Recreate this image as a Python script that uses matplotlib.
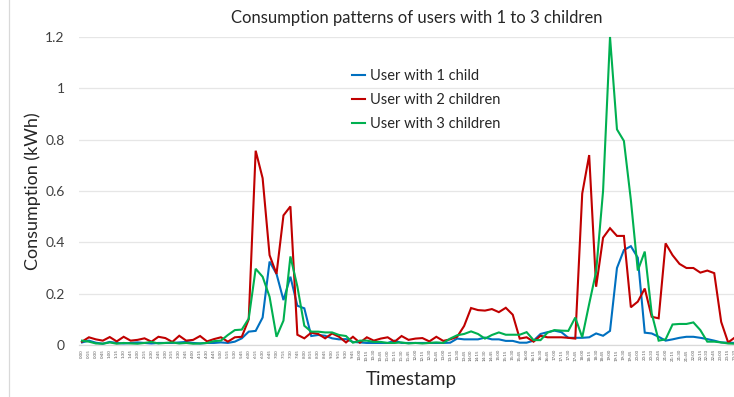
import matplotlib
matplotlib.use("Agg")
import matplotlib.pyplot as plt
from matplotlib.lines import Line2D

plt.rcParams['font.family'] = ['Lato', 'DejaVu Sans']

# 15-minute time slots over a day
timestamps = [f"{h}:{m:02d}" for h in range(24) for m in (0, 15, 30, 45)]

one_child = [
    0.010, 0.017, 0.009, 0.005, 0.012, 0.008, 0.006, 0.008, 0.010, 0.008,
    0.006, 0.008, 0.008, 0.008, 0.010, 0.012, 0.008, 0.006, 0.008, 0.008,
    0.010, 0.008, 0.013, 0.026, 0.052, 0.055, 0.107, 0.325, 0.277, 0.175,
    0.266, 0.153, 0.143, 0.035, 0.039, 0.036, 0.026, 0.022, 0.023, 0.012,
    0.010, 0.008, 0.008, 0.008, 0.008, 0.017, 0.008, 0.008, 0.008, 0.008,
    0.008, 0.008, 0.008, 0.009, 0.025, 0.022, 0.022, 0.022, 0.029, 0.022,
    0.022, 0.016, 0.016, 0.009, 0.009, 0.017, 0.043, 0.050, 0.056, 0.050,
    0.028, 0.028, 0.028, 0.030, 0.045, 0.036, 0.055, 0.300, 0.370, 0.385,
    0.340, 0.048, 0.045, 0.032, 0.017, 0.022, 0.028, 0.032, 0.032, 0.028,
    0.023, 0.017, 0.010, 0.009, 0.008, 0.008,
]

two_children = [
    0.013, 0.030, 0.022, 0.017, 0.031, 0.014, 0.032, 0.017, 0.020, 0.026,
    0.013, 0.032, 0.027, 0.012, 0.036, 0.017, 0.020, 0.035, 0.014, 0.023,
    0.030, 0.013, 0.030, 0.032, 0.100, 0.757, 0.650, 0.350, 0.277, 0.505,
    0.540, 0.040, 0.026, 0.048, 0.043, 0.026, 0.045, 0.032, 0.010, 0.032,
    0.009, 0.030, 0.017, 0.025, 0.030, 0.013, 0.035, 0.020, 0.025, 0.027,
    0.014, 0.032, 0.016, 0.022, 0.032, 0.074, 0.144, 0.136, 0.134, 0.140,
    0.128, 0.145, 0.118, 0.025, 0.030, 0.013, 0.036, 0.030, 0.030, 0.030,
    0.028, 0.025, 0.590, 0.740, 0.227, 0.418, 0.455, 0.425, 0.425, 0.147,
    0.169, 0.220, 0.110, 0.104, 0.396, 0.350, 0.316, 0.300, 0.300, 0.282,
    0.290, 0.280, 0.090, 0.010, 0.030, 0.035,
]

three_children = [
    0.017, 0.013, 0.006, 0.005, 0.010, 0.005, 0.008, 0.006, 0.005, 0.008,
    0.012, 0.006, 0.008, 0.010, 0.006, 0.008, 0.005, 0.006, 0.008, 0.015,
    0.017, 0.039, 0.058, 0.060, 0.103, 0.297, 0.266, 0.188, 0.032, 0.095,
    0.345, 0.228, 0.075, 0.052, 0.052, 0.049, 0.049, 0.039, 0.035, 0.009,
    0.017, 0.017, 0.012, 0.012, 0.008, 0.008, 0.010, 0.006, 0.008, 0.006,
    0.008, 0.010, 0.008, 0.025, 0.038, 0.043, 0.053, 0.043, 0.025, 0.039,
    0.049, 0.040, 0.040, 0.040, 0.050, 0.019, 0.019, 0.048, 0.058, 0.056,
    0.055, 0.107, 0.030, 0.160, 0.286, 0.600, 1.200, 0.840, 0.795, 0.565,
    0.290, 0.364, 0.123, 0.017, 0.022, 0.080, 0.082, 0.082, 0.088, 0.058,
    0.013, 0.013, 0.010, 0.006, 0.005, 0.005,
]

series_names = ["User with 1 child", "User with 2 children", "User with 3 children"]
series_colors = ["#0070C0", "#C00000", "#00B050"]

W, H = 734, 397
fig = plt.figure(figsize=(W / 100, H / 100), dpi=100)
fig.patch.set_facecolor("white")

# plot area runs slightly past the right edge of the canvas
left_px, right_px, bottom_px, top_px = 78.5, 745.5, 345, 37
ax = fig.add_axes([left_px / W, 1 - bottom_px / H,
                   (right_px - left_px) / W, (bottom_px - top_px) / H])

x = list(range(len(timestamps)))
for vals, name, col in zip([one_child, two_children, three_children],
                           series_names, series_colors):
    ax.plot(x, vals, color=col, lw=1.5, label=name, clip_on=False,
            solid_joinstyle="miter", zorder=3)

ax.set_xlim(-0.5, len(timestamps) - 0.5)
ax.set_ylim(0, 1.2)
ax.set_yticks([0, 0.2, 0.4, 0.6, 0.8, 1.0, 1.2])
ax.set_yticklabels(["0", "0.2", "0.4", "0.6", "0.8", "1", "1.2"])
ax.grid(axis="y", color="#E6E6E6", lw=0.9)
ax.set_axisbelow(True)

ax.set_xticks(x)
ax.set_xticklabels(timestamps, rotation=90, fontsize=3.2, color="#595959")
ax.tick_params(axis="x", length=0, pad=3)
ax.tick_params(axis="y", length=0, labelsize=10, labelcolor="#404040", pad=10)

for s in ["top", "right", "left"]:
    ax.spines[s].set_visible(False)
ax.spines["bottom"].set_color("#D9D9D9")
ax.spines["bottom"].set_linewidth(0.9)

fig.text(417 / W, 1 - 18 / H, "Consumption patterns of users with 1 to 3 children",
         ha="center", va="center", fontsize=12, color="#262626")
fig.text(33 / W, 1 - 191 / H, "Consumption (kWh)", rotation=90,
         ha="center", va="center", fontsize=13, color="#262626")
fig.text(411 / W, 1 - 380 / H, "Timestamp", ha="center", va="center",
         fontsize=13.5, color="#262626")

handles = [Line2D([0], [0], color=c, lw=1.5) for c in series_colors]
fig.legend(handles, series_names, loc="upper left",
           bbox_to_anchor=(352 / W, 1 - 69.5 / H), frameon=False,
           fontsize=10.5, handlelength=0.9, handletextpad=0.3,
           labelspacing=0.66, borderaxespad=0, borderpad=0,
           labelcolor="#262626")

# chart area border on the left
fig.add_artist(Line2D([8.5 / W, 8.5 / W], [0, 1], color="#D9D9D9", lw=0.9,
                      transform=fig.transFigure))

fig.savefig("out.png", dpi=100, facecolor="white")
